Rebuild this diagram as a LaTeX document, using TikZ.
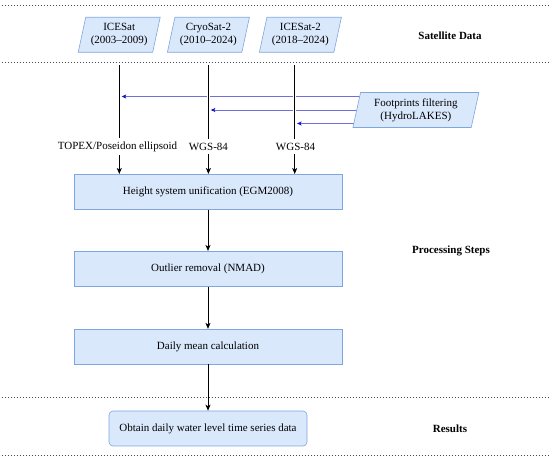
\documentclass[tikz,border=0pt]{standalone}
\usepackage{fontspec}
\setmainfont{Liberation Serif}
\usetikzlibrary{shapes.geometric,arrows.meta,backgrounds}
\definecolor{boxfill}{HTML}{DAE8FC}
\definecolor{boxline}{HTML}{7EA6E0}
\definecolor{filtline}{RGB}{110,110,220}
\definecolor{filttip}{RGB}{20,20,190}
\begin{document}
\begin{tikzpicture}[x=1pt, y=-1pt, line width=0.9pt, font=\fontsize{11}{13}\selectfont,
  sat/.style={trapezium, trapezium left angle=73, trapezium right angle=107, trapezium stretches body,
    draw=boxline, fill=boxfill, line width=0.6pt, minimum height=35pt, align=center, inner sep=1pt},
  stepbox/.style={rectangle, draw=boxline, fill=boxfill, line width=0.6pt, minimum width=268pt, minimum height=35pt},
  flow/.style={-{Stealth[length=6pt, width=5pt, inset=1.5pt]}},
  filt/.style={draw=filtline, line width=0.7pt, shorten >=2.4pt,
    -{Stealth[length=4.5pt, width=4pt, inset=1pt, color=filttip]}},
  sep/.style={line width=0.8pt, dash pattern=on 1pt off 2pt, black!70},
  tag/.style={font=\fontsize{11}{13}\selectfont\bfseries}]
  \useasboundingbox (0,0) rectangle (550,462);
  % section separators
  \foreach \y in {5.7, 62.7, 397.3, 455.3} \draw[sep] (1.5,\y) -- (548.5,\y);
  \node[tag] (tsat) at (450,36) {Satellite Data};
  \node[tag] (tproc) at (451,251) {Processing Steps};
  \node[tag] (tres) at (450,429) {Results};
  % satellites
  \node[sat, minimum width=82pt] (ice1) at (119.2,34.8) {ICESat\\(2003--2009)};
  \node[sat, minimum width=82pt] (cryo) at (208.4,34.8) {CryoSat-2\\(2010--2024)};
  \node[sat, minimum width=82pt] (ice2) at (300.4,34.8) {ICESat-2\\(2018--2024)};
  \node[sat, minimum width=126pt] (foot) at (415.9,110) {Footprints filtering\\(HydroLAKES)};
  \coordinate (s1) at (119.3,65); \coordinate (s2) at (208.4,65); \coordinate (s3) at (294.7,65);
  % reference ellipsoids
  \node (topex) at (117.5,146.7) {TOPEX/Poseidon ellipsoid};
  \node (wgsa) at (208.4,146.7) {WGS-84};
  \node (wgsb) at (295.5,146.7) {WGS-84};
  % processing steps
  \node[stepbox] (unify) at (208,191.8) {Height system unification (EGM2008)};
  \node[stepbox] (nmad) at (208,268.8) {Outlier removal (NMAD)};
  \node[stepbox] (mean) at (208,346.7) {Daily mean calculation};
  \node[stepbox, minimum width=198pt, rounded corners=4pt] (result) at (208,428.5) {Obtain daily water level time series data};
  % filtering arrows
  \coordinate (f1) at ([yshift=13.5pt]foot.center);
  \coordinate (f2) at (foot.center);
  \coordinate (f3) at ([yshift=-13.5pt]foot.center);
  \begin{scope}[on background layer]
    \draw[filt] (f1) -- (f1 -| s1);
    \draw[filt] (f2) -- (f2 -| s2);
    \draw[filt] (f3) -- (f3 -| s3);
  \end{scope}
  % data flow
  \foreach \s/\l in {s1/topex, s2/wgsa, s3/wgsb} {
    \draw[preaction={draw=white, line width=3.5pt}] (\s) -- (\l.north -| \s);
    \draw[flow] (\l.south -| \s) -- (\s |- unify.north);
  }
  \draw[flow] (unify) -- (nmad);
  \draw[flow] (nmad) -- (mean);
  \draw[flow] (mean) -- (result);
\end{tikzpicture}
\end{document}
